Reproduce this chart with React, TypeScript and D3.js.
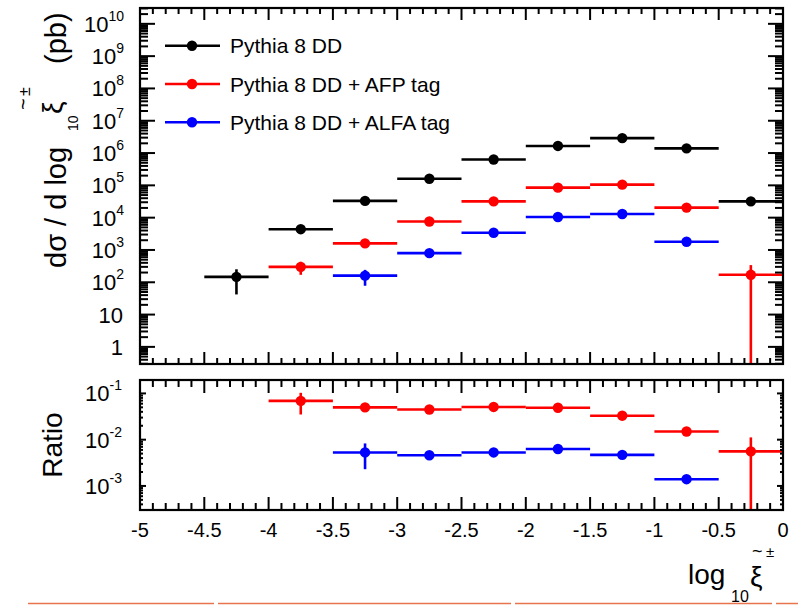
import React from "react";
import * as d3 from "d3";

// ---------- data ----------
const binWidth = 0.5;
const totalLow = [-4.5, -4, -3.5, -3, -2.5, -2, -1.5, -1, -0.5];
const totalVal = [147, 4400, 33000, 160000, 630000, 1660000, 2900000, 1400000, 32000];
const totalErr = [105, 500, 2000, 5000, 12000, 25000, 40000, 25000, 3000];

const afpLow = [-4, -3.5, -3, -2.5, -2, -1.5, -1, -0.5];
const afpVal = [300, 1600, 7600, 32000, 85000, 105000, 20500, 170];
const afpErr = [130, 250, 700, 2000, 4000, 5000, 1500, 170];

const alfaLow = [-3.5, -3, -2.5, -2, -1.5, -1];
const alfaVal = [160, 800, 3400, 10500, 13000, 1800];
const alfaErr = [82, 120, 350, 800, 900, 250];

const ratioAfpVal = [0.069, 0.05, 0.045, 0.051, 0.049, 0.033, 0.015, 0.0056];
const ratioAfpErr = [0.034, 0.006, 0.003, 0.002, 0.0015, 0.001, 0.0008, 0.0056];
const ratioAlfaVal = [0.0053, 0.0046, 0.0053, 0.0063, 0.0047, 0.0014];
const ratioAlfaErr = [0.003, 0.0006, 0.0005, 0.0004, 0.0003, 0.0002];

const legendLabels = ["Pythia 8 DD", "Pythia 8 DD + AFP tag", "Pythia 8 DD + ALFA tag"];
const seriesColors = ["#000000", "#ff0000", "#0000ff"];
const xTickLabels = ["-5", "-4.5", "-4", "-3.5", "-3", "-2.5", "-2", "-1.5", "-1", "-0.5", "0"];
const mainExponents = [0, 1, 2, 3, 4, 5, 6, 7, 8, 9, 10];
const ratioExponents = [-1, -2, -3];

// ---------- layout ----------
const W = 798, H = 605;
const L = 140, R = 783;
const mT = 8, mB = 364;
const rT = 380, rB = 510;
const FONT = "'Liberation Sans', Arial, Helvetica, sans-serif";

const x = d3.scaleLinear().domain([-5, 0]).range([L, R]);
const yMain = d3.scaleLog().domain([Math.pow(10, -0.53), Math.pow(10, 10.49)]).range([mB, mT]);
const yRatio = d3.scaleLog().domain([Math.pow(10, -3.52), Math.pow(10, -0.71)]).range([rB, rT]);

function logMinorTicks(scale: d3.ScaleLogarithmic<number, number>) {
  const [d0, d1] = scale.domain();
  const out: { v: number; major: boolean }[] = [];
  for (let e = Math.floor(Math.log10(d0)); e <= Math.ceil(Math.log10(d1)); e++) {
    for (let m = 1; m <= 9; m++) {
      const v = m * Math.pow(10, e);
      if (v >= d0 && v <= d1) out.push({ v, major: m === 1 });
    }
  }
  return out;
}

function xTicks() {
  const out: { v: number; major: boolean }[] = [];
  for (let i = 0; i <= 50; i++) {
    const v = -5 + i * 0.1;
    out.push({ v, major: i % 5 === 0 });
  }
  return out;
}

type Pt = { lo: number; val: number; err: number };

function Series({ pts, y, color, clipId, yBottom, yTop }: { pts: Pt[]; y: any; color: string; clipId: string; yBottom: number; yTop: number }) {
  return (
    <g clipPath={`url(#${clipId})`}>
      {pts.map((p, i) => {
        const cy = y(p.val);
        const hi = p.val + p.err;
        const lo = p.val - p.err;
        const yHi = y(hi);
        const yLo = lo > 0 ? y(lo) : yBottom + 5;
        return (
          <g key={i}>
            <line x1={x(p.lo)} x2={x(p.lo + binWidth)} y1={cy} y2={cy} stroke={color} strokeWidth={2.6} />
            <line x1={x(p.lo + binWidth / 2)} x2={x(p.lo + binWidth / 2)} y1={Math.max(yHi, yTop - 5)} y2={yLo} stroke={color} strokeWidth={2.6} />
            <circle cx={x(p.lo + binWidth / 2)} cy={cy} r={5.2} fill={color} />
          </g>
        );
      })}
    </g>
  );
}

function Frame({ top, bottom, xMajor, xMinor, yScale, yMajor, yMinor }: any) {
  const xt = xTicks();
  const yt = logMinorTicks(yScale);
  return (
    <g stroke="#000" fill="none">
      {xt.map((t, i) => {
        const len = t.major ? xMajor : xMinor;
        const xx = x(t.v);
        return (
          <g key={"x" + i}>
            <line x1={xx} x2={xx} y1={bottom} y2={bottom - len} strokeWidth={2} />
            <line x1={xx} x2={xx} y1={top} y2={top + len} strokeWidth={2} />
          </g>
        );
      })}
      {yt.map((t, i) => {
        const len = t.major ? yMajor : yMinor;
        const yy = yScale(t.v);
        return (
          <g key={"y" + i}>
            <line x1={L} x2={L + len} y1={yy} y2={yy} strokeWidth={2} />
            <line x1={R} x2={R - len} y1={yy} y2={yy} strokeWidth={2} />
          </g>
        );
      })}
      <rect x={L} y={top} width={R - L} height={bottom - top} strokeWidth={2.2} />
    </g>
  );
}

export default function App() {
  const total: Pt[] = totalLow.map((lo, i) => ({ lo, val: totalVal[i], err: totalErr[i] }));
  const afp: Pt[] = afpLow.map((lo, i) => ({ lo, val: afpVal[i], err: afpErr[i] }));
  const alfa: Pt[] = alfaLow.map((lo, i) => ({ lo, val: alfaVal[i], err: alfaErr[i] }));
  const rAfp: Pt[] = afpLow.map((lo, i) => ({ lo, val: ratioAfpVal[i], err: ratioAfpErr[i] }));
  const rAlfa: Pt[] = alfaLow.map((lo, i) => ({ lo, val: ratioAlfaVal[i], err: ratioAlfaErr[i] }));

  return (
    <svg width={W} height={H} style={{ position: "fixed", left: 0, top: 0, display: "block", background: "#fff" }} fontFamily={FONT}>
      <defs>
        <clipPath id="clipMain"><rect x={L} y={mT} width={R - L} height={mB - mT} /></clipPath>
        <clipPath id="clipRatio"><rect x={L} y={rT} width={R - L} height={rB - rT} /></clipPath>
      </defs>
      <rect x={0} y={0} width={W} height={H} fill="#fff" />

      {/* main panel */}
      <Series pts={alfa} y={yMain} color={seriesColors[2]} clipId="clipMain" yBottom={mB} yTop={mT} />
      <Series pts={afp} y={yMain} color={seriesColors[1]} clipId="clipMain" yBottom={mB} yTop={mT} />
      <Series pts={total} y={yMain} color={seriesColors[0]} clipId="clipMain" yBottom={mB} yTop={mT} />
      <Frame top={mT} bottom={mB} xMajor={12} xMinor={6} yScale={yMain} yMajor={15} yMinor={8} />

      {/* main y tick labels */}
      {mainExponents.map((e) => {
        const yy = yMain(Math.pow(10, e));
        if (e === 0) return <text key={e} x={123} y={yy + 8} fontSize={22} textAnchor="end">1</text>;
        if (e === 1) return <text key={e} x={123} y={yy + 8} fontSize={22} textAnchor="end">10</text>;
        return (
          <text key={e} x={124} y={yy + 8} fontSize={22} textAnchor="end">
            10<tspan dy={-11} fontSize={14}>{e}</tspan>
          </text>
        );
      })}

      {/* legend */}
      {legendLabels.map((lab, i) => {
        const ly = 45.7 + i * 38.3;
        return (
          <g key={lab}>
            <line x1={165} x2={220} y1={ly} y2={ly} stroke={seriesColors[i]} strokeWidth={2.6} />
            <circle cx={192} cy={ly} r={5.2} fill={seriesColors[i]} />
            <text x={230} y={ly + 7.5} fontSize={21}>{lab}</text>
          </g>
        );
      })}

      {/* main y label */}
      <g transform="translate(66,0) rotate(-90)">
        <text x={-268} y={0} fontSize={29}>dσ / d log</text>
        <text x={-131} y={12} fontSize={14}>10</text>
        <text x={-114} y={-4} fontSize={28}>ξ</text>
        <text x={-110} y={-36} fontSize={20}>~</text>
        <text x={-96} y={-36} fontSize={16}>±</text>
        <text x={-64} y={0} fontSize={29}>(pb)</text>
      </g>

      {/* ratio panel */}
      <Series pts={rAlfa} y={yRatio} color={seriesColors[2]} clipId="clipRatio" yBottom={rB} yTop={rT} />
      <Series pts={rAfp} y={yRatio} color={seriesColors[1]} clipId="clipRatio" yBottom={rB} yTop={rT} />
      <Frame top={rT} bottom={rB} xMajor={13} xMinor={7} yScale={yRatio} yMajor={6} yMinor={3} />

      {ratioExponents.map((e) => {
        const yy = yRatio(Math.pow(10, e));
        return (
          <text key={e} x={122} y={yy + 8} fontSize={22} textAnchor="end">
            10<tspan dy={-11} fontSize={14}>{String(e)}</tspan>
          </text>
        );
      })}

      <text transform="translate(62,445) rotate(-90)" textAnchor="middle" fontSize={28}>Ratio</text>

      {/* x tick labels */}
      {xTickLabels.map((lab) => (
        <text key={lab} x={x(+lab)} y={537} fontSize={20} textAnchor="middle">{lab}</text>
      ))}

      {/* x label */}
      <text x={688} y={584} fontSize={28}>log</text>
      <text x={731} y={602} fontSize={16}>10</text>
      <text x={750} y={586} fontSize={28}>ξ</text>
      <text x={752} y={557} fontSize={18}>~</text>
      <text x={766} y={557} fontSize={15}>±</text>

      {/* bottom orange rule */}
      {[[28, 214], [218, 511], [515, 772], [776, 798]].map(([a, b], i) => (
        <line key={i} x1={a} x2={b} y1={603.5} y2={603.5} stroke="#e8744e" strokeWidth={1.5} />
      ))}
    </svg>
  );
}
